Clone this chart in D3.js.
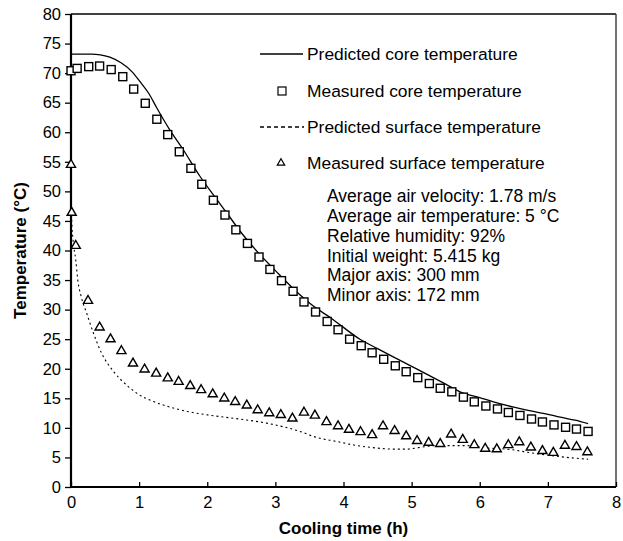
<!DOCTYPE html>
<html>
<head>
<meta charset="utf-8">
<script src="https://cdn.jsdelivr.net/npm/d3@7"></script>
<style>
  body { margin: 0; background: #fff; }
  svg text { font-family: "Liberation Sans", Arial, Helvetica, sans-serif; fill: #000; }
</style>
</head>
<body>
<div id="chart"></div>
<script>
// measured core temperature (squares), every 10 min
var coreTime = [0, 0.09, 0.26, 0.42, 0.59, 0.76, 0.92, 1.09, 1.26, 1.42, 1.59, 1.76, 1.92,
    2.09, 2.26, 2.42, 2.59, 2.76, 2.92, 3.09, 3.26, 3.42, 3.59, 3.76, 3.92, 4.09, 4.26, 4.42,
    4.59, 4.76, 4.92, 5.09, 5.26, 5.42, 5.59, 5.76, 5.92, 6.09, 6.26, 6.42, 6.59, 6.76, 6.92,
    7.09, 7.26, 7.42, 7.59];
var coreMeasured = [70.4, 70.8, 71.1, 71.2, 70.6, 69.4, 67.3, 64.9, 62.2, 59.6, 56.7, 53.9, 51.2,
    48.5, 46.0, 43.5, 41.2, 38.9, 36.8, 34.9, 33.1, 31.3, 29.6, 28.0, 26.6, 25.0, 23.9, 22.7,
    21.6, 20.5, 19.5, 18.5, 17.5, 16.7, 16.1, 15.2, 14.4, 13.7, 13.2, 12.6, 12.1, 11.5, 11.0,
    10.5, 10.1, 9.8, 9.4];

// measured surface temperature (triangles)
var surfTime = [0, 0.01, 0.07, 0.25, 0.42, 0.58, 0.74, 0.91, 1.08, 1.25, 1.42, 1.58, 1.75, 1.91,
    2.08, 2.25, 2.41, 2.58, 2.74, 2.91, 3.08, 3.25, 3.42, 3.58, 3.75, 3.92, 4.08, 4.25, 4.42,
    4.58, 4.75, 4.92, 5.08, 5.25, 5.42, 5.58, 5.75, 5.92, 6.08, 6.25, 6.42, 6.58, 6.75, 6.92,
    7.08, 7.25, 7.42, 7.58];
var surfMeasured = [54.5, 46.4, 40.8, 31.5, 27.0, 25.0, 23.0, 20.9, 19.9, 19.2, 18.4, 17.8, 17.1, 16.4,
    15.7, 15.0, 14.4, 13.8, 13.0, 12.5, 12.2, 11.6, 12.6, 12.1, 11.0, 10.3, 9.7, 9.3, 8.8,
    10.3, 9.5, 8.6, 7.8, 7.5, 7.3, 8.9, 8.0, 7.1, 6.5, 6.4, 7.1, 7.6, 6.7, 6.1,
    5.8, 7.0, 6.8, 5.9];

// predicted core temperature (solid line)
var predCoreTime = [0, 0.3, 0.43, 0.57, 0.74, 0.89, 1.01, 1.14, 1.26, 1.45, 1.65, 1.89, 2.09, 2.29,
    2.5, 2.75, 3.0, 3.36, 3.5, 3.85, 4.24, 4.5, 4.73, 5.0, 5.22, 5.5, 5.71, 6.0, 6.2, 6.5,
    6.69, 7.0, 7.18, 7.4, 7.59];
var predCore = [73.2, 73.2, 73.1, 72.7, 71.7, 70.3, 68.6, 66.6, 64.1, 60.4, 57.0, 52.6, 49.4, 46.3,
    43.0, 39.6, 36.6, 32.5, 31.1, 28.3, 25.0, 23.4, 22.0, 20.4, 19.1, 17.4, 16.1, 15.1, 14.4, 13.5,
    13.0, 12.3, 11.8, 11.3, 10.7];

// predicted surface temperature (dashed line)
var predSurfTime = [0, 0.01, 0.03, 0.07, 0.1, 0.15, 0.23, 0.33, 0.45, 0.62, 0.82, 1.0, 1.2, 1.4,
    1.7, 2.0, 2.4, 2.87, 3.36, 3.6, 3.9, 4.15, 4.4, 4.75, 4.93, 5.12, 5.37, 5.8, 6.1, 6.4,
    6.8, 7.2, 7.59];
var predSurf = [54.5, 45.2, 41.8, 38.4, 35.0, 32.2, 29.4, 26.0, 22.6, 19.6, 17.2, 15.6, 14.5, 13.7,
    12.8, 12.2, 11.6, 10.8, 9.4, 8.4, 7.7, 7.1, 6.7, 6.4, 6.4, 6.7, 7.0, 7.0, 6.6, 6.4,
    5.7, 5.1, 4.7];

var xTicks = [0, 1, 2, 3, 4, 5, 6, 7, 8];
var yTicks = [0, 5, 10, 15, 20, 25, 30, 35, 40, 45, 50, 55, 60, 65, 70, 75, 80];

var legendLabels = ["Predicted core temperature", "Measured core temperature",
    "Predicted surface temperature", "Measured surface temperature"];
var noteLines = ["Average air velocity: 1.78 m/s", "Average air temperature: 5 \u00B0C",
    "Relative humidity: 92%", "Initial weight: 5.415 kg", "Major axis: 300 mm", "Minor axis: 172 mm"];

var W = 623, H = 541;
var margin = { top: 14, right: 7, bottom: 54, left: 71 };

var svg = d3.select("#chart").append("svg")
    .attr("width", W)
    .attr("height", H);

var x = d3.scaleLinear().domain([0, 8]).range([margin.left, W - margin.right]);
var y = d3.scaleLinear().domain([0, 80]).range([H - margin.bottom, margin.top]);

// frame: top and right thin
svg.append("line")
    .attr("x1", x(0)).attr("x2", x(8)).attr("y1", y(80)).attr("y2", y(80))
    .attr("stroke", "#000").attr("stroke-width", 1.3);
svg.append("line")
    .attr("x1", x(8)).attr("x2", x(8)).attr("y1", y(80)).attr("y2", y(0))
    .attr("stroke", "#444").attr("stroke-width", 1.5);

// axes
var yAxis = svg.append("g")
    .attr("transform", "translate(" + x(0) + ",0)")
    .call(d3.axisLeft(y).tickValues(yTicks).tickSize(6).tickPadding(4));
var xAxis = svg.append("g")
    .attr("transform", "translate(0," + y(0) + ")")
    .call(d3.axisBottom(x).tickValues(xTicks).tickSize(-5).tickPadding(9));

[xAxis, yAxis].forEach(function (g) {
    g.select(".domain").attr("stroke", "#000").attr("stroke-width", 2.2);
    g.selectAll(".tick line").attr("stroke", "#000").attr("stroke-width", 1.3);
    g.selectAll(".tick text").style("font-size", "16.5px").attr("fill", "#000");
});
yAxis.select(".domain").attr("d", "M0," + y(0) + "V" + y(80));
xAxis.select(".domain").attr("d", "M" + x(0) + ",0H" + x(8));

// axis titles
svg.append("text")
    .attr("x", (x(0) + x(8)) / 2)
    .attr("y", 534)
    .attr("text-anchor", "middle")
    .style("font-size", "17px")
    .style("font-weight", "bold")
    .text("Cooling time (h)");

svg.append("text")
    .attr("transform", "translate(26," + (y(0) + y(80)) / 2 + ") rotate(-90)")
    .attr("text-anchor", "middle")
    .style("font-size", "17px")
    .style("font-weight", "bold")
    .text("Temperature (\u00B0C)");

var line = d3.line()
    .x(function (d) { return x(d[0]); })
    .y(function (d) { return y(d[1]); })
    .curve(d3.curveMonotoneX);

svg.append("path")
    .datum(d3.zip(predCoreTime, predCore))
    .attr("d", line)
    .attr("fill", "none")
    .attr("stroke", "#000")
    .attr("stroke-width", 1.3);

svg.append("path")
    .datum(d3.zip(predSurfTime, predSurf))
    .attr("d", line)
    .attr("fill", "none")
    .attr("stroke", "#000")
    .attr("stroke-width", 1.1)
    .attr("stroke-dasharray", "2,3");

var sq = 8;
svg.selectAll(".sq")
    .data(d3.zip(coreTime, coreMeasured))
    .enter().append("rect")
    .attr("class", "sq")
    .attr("x", function (d) { return x(d[0]) - sq / 2; })
    .attr("y", function (d) { return y(d[1]) - sq / 2; })
    .attr("width", sq)
    .attr("height", sq)
    .attr("fill", "#fff")
    .attr("stroke", "#000")
    .attr("stroke-width", 1.4);

var tri = d3.symbol().type(d3.symbolTriangle).size(36);
svg.selectAll(".tri")
    .data(d3.zip(surfTime, surfMeasured))
    .enter().append("path")
    .attr("class", "tri")
    .attr("d", tri)
    .attr("transform", function (d) { return "translate(" + x(d[0]) + "," + y(d[1]) + ")"; })
    .attr("fill", "#fff")
    .attr("stroke", "#000")
    .attr("stroke-width", 1.4);

// legend
var legY = [54, 91, 127, 163];
var leg = svg.selectAll(".leg")
    .data(legendLabels)
    .enter().append("g")
    .attr("class", "leg")
    .attr("transform", function (d, i) { return "translate(0," + legY[i] + ")"; });

leg.append("text")
    .attr("x", 307)
    .attr("dy", "0.35em")
    .style("font-size", "17.4px")
    .text(function (d) { return d; });

leg.filter(function (d, i) { return i === 0; }).append("line")
    .attr("x1", 260).attr("x2", 303).attr("stroke", "#000").attr("stroke-width", 1.3);
leg.filter(function (d, i) { return i === 2; }).append("line")
    .attr("x1", 260).attr("x2", 304).attr("stroke", "#000").attr("stroke-width", 1.5)
    .attr("stroke-dasharray", "4,3");
leg.filter(function (d, i) { return i === 1; }).append("rect")
    .attr("x", 278).attr("y", -4).attr("width", 8).attr("height", 8)
    .attr("fill", "#fff").attr("stroke", "#000").attr("stroke-width", 1.2);
leg.filter(function (d, i) { return i === 3; }).append("path")
    .attr("d", d3.symbol().type(d3.symbolTriangle).size(24))
    .attr("transform", "translate(281,0)")
    .attr("fill", "#fff").attr("stroke", "#000").attr("stroke-width", 1.2);

// conditions note
svg.selectAll(".note")
    .data(noteLines)
    .enter().append("text")
    .attr("class", "note")
    .attr("x", 327)
    .attr("y", function (d, i) { return 196 + i * 19.8; })
    .attr("dy", "0.35em")
    .style("font-size", "17.5px")
    .text(function (d) { return d; });
</script>
</body>
</html>
